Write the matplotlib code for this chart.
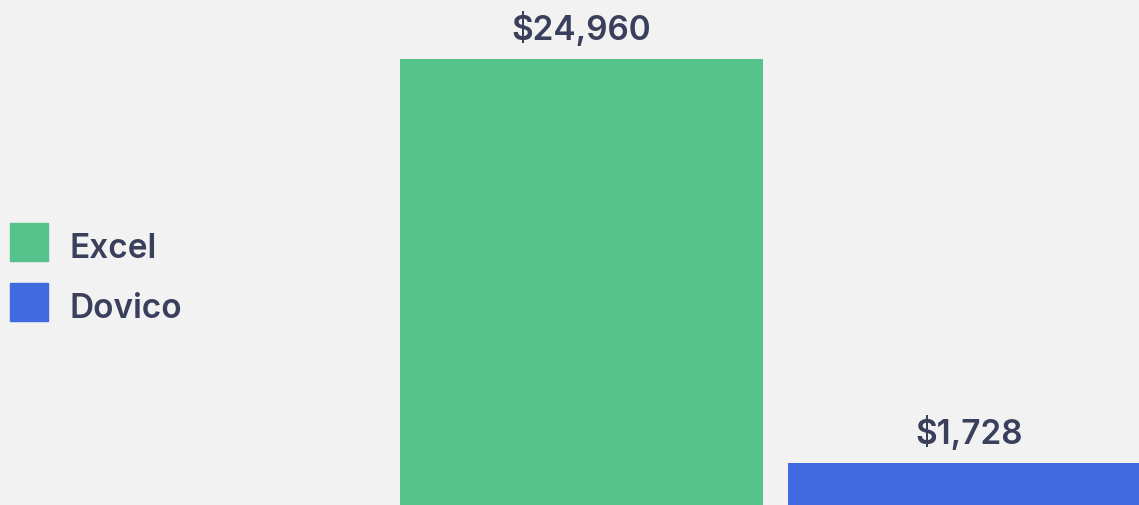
import matplotlib.pyplot as plt
from matplotlib.patches import Rectangle

tools = ["Excel", "Dovico"]
costs = [24960, 1728]
colors = ["#56c28c", "#416ae0"]

text_color = "#3a3f5c"
bg = "#f2f2f2"
W, H = 1139, 505

plt.rcParams['font.family'] = ['Inter', 'DejaVu Sans']

fig = plt.figure(figsize=(W / 100, H / 100), dpi=100, facecolor=bg)
ax = fig.add_axes([0, 0, 1, 1])
ax.set_facecolor(bg)

# the original's baseline sits below the visible bottom edge
ylo, yhi = -687, 28354
bars = ax.bar([0, 1], [c - ylo for c in costs], bottom=ylo,
              width=0.9356, color=colors)
ax.set_ylim(ylo, yhi)
ax.set_xlim(-1.4987, 1.4369)

for b, v in zip(bars, costs):
    ax.annotate(f"${v:,}", (b.get_x() + b.get_width() / 2, v),
                xytext=(0, 14), textcoords='offset points',
                ha='center', va='baseline', fontsize=24,
                fontweight='semibold', color=text_color)

ax.axis('off')

# legend on the left
for i, (name, c) in enumerate(zip(tools, colors)):
    top = 223 + i * 60
    fig.patches.append(Rectangle((10 / W, 1 - (top + 38) / H), 38 / W, 38 / H,
                                 transform=fig.transFigure, color=c))
    fig.text(69 / W, 1 - (top + 35) / H, name, ha='left', va='baseline',
             fontsize=24, fontweight='semibold', color=text_color)

fig.savefig("out.png", dpi=100, facecolor=bg)
